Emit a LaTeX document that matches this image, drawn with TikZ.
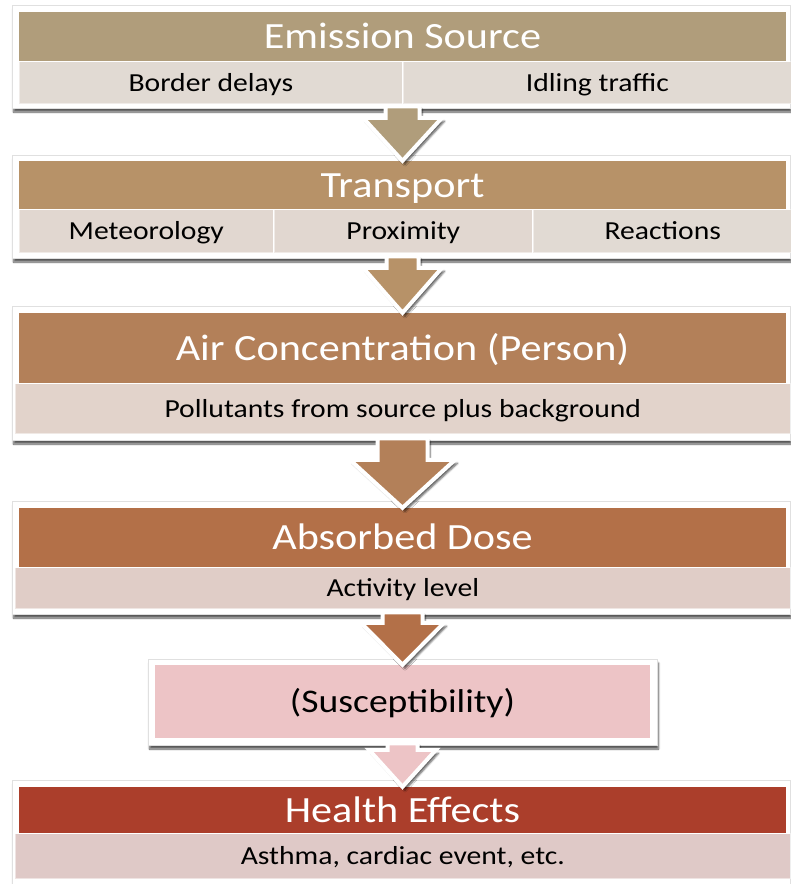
\documentclass[tikz,border=0pt]{standalone}
\usepackage{fontspec}
\setmainfont{Carlito}[FakeStretch=1.14]
\usetikzlibrary{positioning,calc,shadows.blur}
\definecolor{emisbrown}{HTML}{B09D7B}
\definecolor{emissub}{HTML}{E1DAD3}
\definecolor{transbrown}{HTML}{B79268}
\definecolor{transsub}{HTML}{E1D7D0}
\definecolor{airbrown}{HTML}{B38059}
\definecolor{airsub}{HTML}{E2D3CB}
\definecolor{dosebrown}{HTML}{B37048}
\definecolor{dosesub}{HTML}{E0CDC7}
\definecolor{susrose}{HTML}{EDC4C6}
\definecolor{healthred}{HTML}{AB3E2B}
\definecolor{healthsub}{HTML}{DFC9C7}
\begin{document}
\begin{tikzpicture}[x=1pt, y=-1pt,
  flowframe/.style = {draw=black!12, line width=0.5pt, fill=white, inner sep=0pt,
    blur shadow={shadow xshift=1.5pt, shadow yshift=-4pt, shadow opacity=65, shadow blur steps=6}},
  flowhead/.style = {inner sep=0pt, text=white, font=\fontsize{37}{40}\selectfont,
    text height=24pt, text depth=0pt},
  flowsub/.style = {inner sep=0pt, draw=white, draw opacity=0.5, line width=1pt,
    font=\fontsize{26}{30}\selectfont, text height=17pt, text depth=0pt},
  flowarrow/.style = {draw=white, line width=4pt, line join=miter,
    blur shadow={shadow xshift=2.5pt, shadow yshift=-3.5pt, shadow opacity=65, shadow blur steps=5}}
]
  \useasboundingbox (0,0) rectangle (791,884);
  % emission source
  \node[flowframe, minimum width=778pt, minimum height=103pt] (emisframe) at (401,56.5) {};
  \node[flowhead, fill=emisbrown, minimum width=767pt, minimum height=49pt] (emishead) at (402.5,36.5) {Emission Source};
  \node[flowsub, fill=emissub, minimum width=383pt, minimum height=42pt, below right=0pt of emishead.south west] (emisleft) {Border delays};
  \node[flowsub, fill=emissub, minimum width=388pt, minimum height=42pt, right=0pt of emisleft] (emisright) {Idling traffic};
  % transport
  \node[flowframe, minimum width=778pt, minimum height=103pt] (transframe) at (401,206.5) {};
  \node[flowhead, fill=transbrown, minimum width=767pt, minimum height=48pt] (transhead) at (402.5,185) {Transport};
  \node[flowsub, fill=transsub, minimum width=254pt, minimum height=43pt, below right=0pt of transhead.south west] (transmet) {Meteorology};
  \node[flowsub, fill=transsub, minimum width=258pt, minimum height=43pt, right=0pt of transmet] (transprox) {Proximity};
  \node[flowsub, fill=emissub, minimum width=259pt, minimum height=43pt, right=0pt of transprox] (transreact) {Reactions};
  % air concentration
  \node[flowframe, minimum width=778pt, minimum height=134pt] (airframe) at (401,373) {};
  \node[flowhead, fill=airbrown, minimum width=767pt, minimum height=70pt] (airhead) at (402.5,348) {Air Concentration (Person)};
  \node[flowsub, fill=airsub, minimum width=775pt, minimum height=50pt, below right=0pt and -4pt of airhead.south west] (airsub) {Pollutants from source plus background};
  % absorbed dose
  \node[flowframe, minimum width=778pt, minimum height=113pt] (doseframe) at (401,557.5) {};
  \node[flowhead, fill=dosebrown, minimum width=767pt, minimum height=59pt] (dosehead) at (402.5,537.5) {Absorbed Dose};
  \node[flowsub, fill=dosesub, minimum width=775pt, minimum height=41pt, below right=0pt and -4pt of dosehead.south west] (dosesub) {Activity level};
  % susceptibility
  \node[flowframe, minimum width=509pt, minimum height=86pt] (suscframe) at (402.5,702) {};
  \node[inner sep=0pt, fill=susrose, minimum width=495pt, minimum height=73pt,
    font=\fontsize{33}{36}\selectfont, text height=21pt, text depth=0pt] (suscbox) at (402.5,701.5) {(Susceptibility)};
  % health effects
  \node[flowframe, minimum width=778pt, minimum height=110pt] (healthframe) at (401,835) {};
  \node[flowhead, fill=healthred, minimum width=767pt, minimum height=46pt] (healthhead) at (402.5,810) {Health Effects};
  \node[flowsub, fill=healthsub, minimum width=775pt, minimum height=45pt, below right=0pt and -4pt of healthhead.south west] (healthsub) {Asthma, cardiac event, etc.};
  % block arrows between the stages
  \foreach \src/\dst/\col/\sw/\hw/\hl in {emisframe/transhead/emisbrown/17/39.5/43,
      transframe/airhead/transbrown/16/39.5/45, airframe/dosehead/airbrown/25/52.5/48,
      doseframe/suscbox/dosebrown/20/41.5/42, suscframe/healthhead/susrose/15/33.5/37}
    \draw[flowarrow, fill=\col] let \p1=(\src.south), \p2=(\dst.north) in
      (\x2-\sw*1pt,\y1+2pt) -- (\x2-\sw*1pt,\y2+\hl*1pt) -- (\x2-\hw*1pt,\y2+\hl*1pt)
      -- (\x2,\y2) -- (\x2+\hw*1pt,\y2+\hl*1pt) -- (\x2+\sw*1pt,\y2+\hl*1pt)
      -- (\x2+\sw*1pt,\y1+2pt) -- cycle;
\end{tikzpicture}
\end{document}
